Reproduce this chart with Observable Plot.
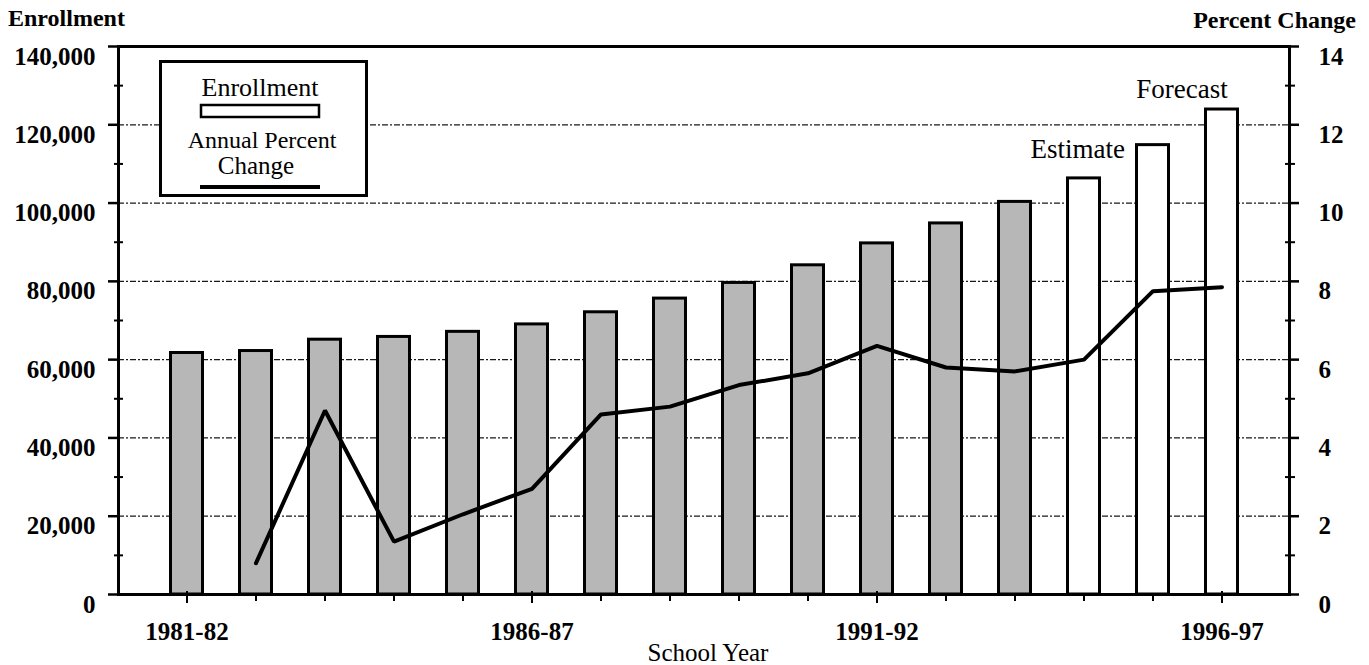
<!DOCTYPE html>
<html><head><meta charset="utf-8">
<script src="https://cdn.jsdelivr.net/npm/d3@7"></script>
<script src="https://cdn.jsdelivr.net/npm/@observablehq/plot@0.6"></script>
<style>
body{margin:0;background:#fff;}
#wrap{position:relative;width:1369px;height:665px;}
</style></head><body><div id="wrap"></div>
<script>
// ---- data ----
const years = ["1981-82","1982-83","1983-84","1984-85","1985-86","1986-87","1987-88","1988-89",
  "1989-90","1990-91","1991-92","1992-93","1993-94","1994-95","1995-96","1996-97"];
const enrollment = [61700, 62200, 65100, 65800, 67100, 69000, 72100, 75600,
  79600, 84100, 89700, 94800, 100300, 106300, 114800, 123900];
const pctChange = [null, 0.8, 4.7, 1.35, 2.05, 2.7, 4.6, 4.8,
  5.35, 5.65, 6.35, 5.8, 5.7, 6.0, 7.75, 7.85];
const status = ["Actual","Actual","Actual","Actual","Actual","Actual","Actual","Actual",
  "Actual","Actual","Actual","Actual","Actual","Estimate","Estimate","Forecast"];
const labeledYears = ["1981-82","1986-87","1991-92","1996-97"];
const leftTicks = [0,20000,40000,60000,80000,100000,120000,140000];
const leftMinor = [10000,30000,50000,70000,90000,110000,130000];
const rightTicks = [0,2,4,6,8,10,12,14];
const rightMinor = [1,3,5,7,9,11,13];
const annotations = [{year:"1995-96", label:"Estimate"}, {year:"1996-97", label:"Forecast"}];

const PCT = 10000; // 14% on the right axis == 140,000 on the left axis
const data = years.map((year,i)=>({year, enrollment: enrollment[i], pct: pctChange[i], status: status[i]}));
const ann = annotations.map(a => ({...a, enrollment: enrollment[years.indexOf(a.year)]}));
const font = "'Liberation Serif','Times New Roman',serif";

const chart = Plot.plot({
  width: 1369, height: 665,
  marginTop: 46, marginBottom: 71, marginLeft: 118, marginRight: 80,
  style: `font-family: ${font}; font-size: 25px; font-weight: bold; background: white; color: black;`,
  x: {type: "band", domain: years, paddingInner: 0.5, paddingOuter: 0.685, label: null},
  y: {domain: [0, 140000], label: null},
  marks: [
    Plot.gridY(leftTicks.filter(t => t > 0 && t < 140000), {stroke: "black", strokeOpacity: 0.9, strokeWidth: 1.3, strokeDasharray: "6,2,2,2"}),
    Plot.barY(data, {x: "year", y: "enrollment", fill: d => d.status === "Actual" ? "#b7b7b7" : "white",
      stroke: "black", strokeWidth: 3, insetLeft: 1.5, insetRight: 1.5}),
    Plot.line(data.filter(d => d.pct != null), {x: "year", y: d => d.pct * PCT, stroke: "black", strokeWidth: 4, strokeLinejoin: "miter"}),
    Plot.frame({stroke: "black", strokeWidth: 3}),
    // left axis
    Plot.axisY(leftTicks, {anchor: "left", tickSize: 10, strokeWidth: 2.5, tickFormat: () => ""}),
    Plot.axisY(leftMinor, {anchor: "left", tickSize: 9, dx: 5, strokeWidth: 2, tickFormat: () => ""}),
    Plot.axisY(leftTicks, {anchor: "left", tickSize: 0, tickPadding: 23, dy: 10, tickFormat: d3.format(","), fontFamily: font, fontWeight: "bold"}),
    // right axis
    Plot.axisY(leftTicks, {anchor: "right", tickSize: 9, strokeWidth: 2.5, tickFormat: () => ""}),
    Plot.axisY(rightMinor.map(v => v * PCT), {anchor: "right", tickSize: 10, dx: -5, strokeWidth: 2, tickFormat: () => ""}),
    Plot.axisY(rightTicks.map(v => v * PCT), {anchor: "right", tickSize: 0, tickPadding: 29, dy: 10, tickFormat: d => d / PCT, fontFamily: font, fontWeight: "bold"}),
    // x axis
    Plot.axisX(years, {anchor: "bottom", tickSize: 7, strokeWidth: 2, tickFormat: () => ""}),
    Plot.axisX(labeledYears, {anchor: "bottom", tickSize: 12, dy: -3, strokeWidth: 2, tickFormat: () => ""}),
    Plot.axisX(labeledYears, {anchor: "bottom", tickSize: 0, tickPadding: 28, fontFamily: font, fontWeight: "bold"}),
    // annotations
    Plot.text(ann.filter(d => d.label === "Estimate"), {x: "year", y: "enrollment", text: "label", textAnchor: "end",
      lineAnchor: "bottom", dx: -28, dy: 13, fontSize: 27, fontWeight: "normal", fontFamily: font, fill: "black"}),
    Plot.text(ann.filter(d => d.label === "Forecast"), {x: "year", y: "enrollment", text: "label", textAnchor: "middle",
      lineAnchor: "bottom", dx: -40, dy: -12, fontSize: 27, fontWeight: "normal", fontFamily: font, fill: "black"})
  ]
});

const svg = d3.select(chart);
const g = svg.append("g").attr("font-family", font).attr("fill", "black").attr("text-anchor", "start");
g.append("text").attr("x", 8).attr("y", 26).attr("text-anchor", "start").attr("font-size", 24).attr("font-weight", "bold").text("Enrollment");
g.append("text").attr("x", 1356).attr("y", 28).attr("text-anchor", "end").attr("font-size", 24).attr("font-weight", "bold").text("Percent Change");
g.append("text").attr("x", 708).attr("y", 661).attr("text-anchor", "middle").attr("font-size", 25).attr("font-weight", "normal").text("School Year");

// legend
const lg = g.append("g").attr("font-weight", "normal");
lg.append("rect").attr("x", 160.5).attr("y", 61.5).attr("width", 206).attr("height", 134)
  .attr("fill", "white").attr("stroke", "black").attr("stroke-width", 3);
lg.append("text").attr("x", 260).attr("y", 96).attr("text-anchor", "middle").attr("font-size", 26).text("Enrollment");
lg.append("rect").attr("x", 201).attr("y", 105).attr("width", 118).attr("height", 12)
  .attr("fill", "white").attr("stroke", "black").attr("stroke-width", 2.5);
lg.append("text").attr("x", 262).attr("y", 148).attr("text-anchor", "middle").attr("font-size", 24).text("Annual Percent");
lg.append("text").attr("x", 256).attr("y", 174).attr("text-anchor", "middle").attr("font-size", 25).text("Change");
lg.append("line").attr("x1", 200).attr("x2", 320).attr("y1", 187).attr("y2", 187)
  .attr("stroke", "black").attr("stroke-width", 4);

document.getElementById("wrap").appendChild(chart);
</script>
</body></html>
